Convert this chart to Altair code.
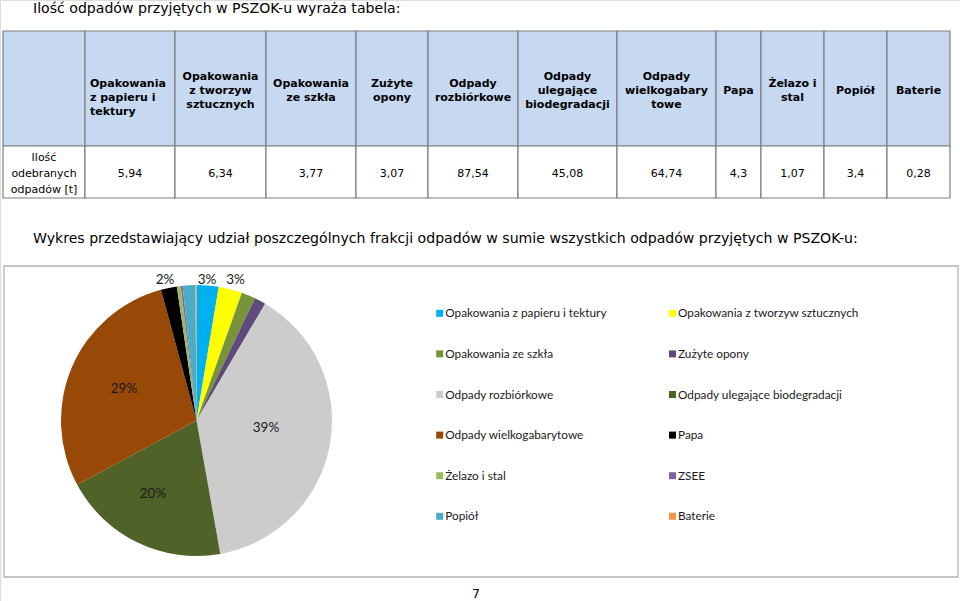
import altair as alt
import pandas as pd

W, H = 960, 601

# ---------------- data ----------------
categories = [
    "Opakowania z papieru i tektury", "Opakowania z tworzyw sztucznych",
    "Opakowania ze szkła", "Zużyte opony", "Odpady rozbiórkowe",
    "Odpady ulegające biodegradacji", "Odpady wielkogabarytowe", "Papa",
    "Żelazo i stal", "ZSEE", "Popiół", "Baterie",
]
tonnes = [5.94, 6.34, 3.77, 3.07, 87.54, 45.08, 64.74, 4.3, 1.07, 0.5, 3.4, 0.28]
colors = ["#00B0F0", "#FFFF00", "#77933C", "#604A7B", "#CCCCCC", "#4F6228",
          "#984807", "#000000", "#9BBB59", "#8064A2", "#4BACC6", "#F79646"]

table_headers = [
    "", "Opakowania\nz papieru i\ntektury", "Opakowania\nz tworzyw\nsztucznych",
    "Opakowania\nze szkła", "Zużyte\nopony", "Odpady\nrozbiórkowe",
    "Odpady\nulegające\nbiodegradacji", "Odpady\nwielkogabary\ntowe", "Papa",
    "Żelazo i\nstal", "Popiół", "Baterie",
]
table_values = [5.94, 6.34, 3.77, 3.07, 87.54, 45.08, 64.74, 4.3, 1.07, 3.4, 0.28]
row_label = "Ilość\nodebranych\nodpadów [t]"

title1 = "Ilość odpadów przyjętych w PSZOK-u wyraża tabela:"
title2 = ("Wykres przedstawiający udział poszczególnych frakcji odpadów w sumie "
          "wszystkich odpadów przyjętych w PSZOK-u:")
page_no = "7"

# ---------------- layout ----------------
col_edges = [3, 85, 175, 266, 356, 428, 518, 617, 716, 761, 824, 887, 950]
head_top, head_bot, row_bot = 31, 146, 198
head_mid, head1_mid, row_mid = 91, 98, 174
head_lh, row_lh = 14, 16
pie_cx, pie_cy, pie_r = 196.5, 420.5, 135.5
# shown slice labels: slice index -> label centre (Excel "best fit" placement)
label_pos = {7: (165, 280), 0: (207, 280), 1: (235.5, 280),
             6: (124, 388.5), 4: (266, 428), 5: (153, 493.5)}
leg_x0, leg_dx, leg_y0, leg_dy = 439.7, 232.8, 313.3, 40.6

xs = alt.Scale(domain=[0, W], range=[0, W], nice=False, zero=False)
ys = alt.Scale(domain=[0, H], range=[0, H], nice=False, zero=False)


def X(f):
    return alt.X(f, type="quantitative", scale=xs, axis=None)


def Y(f):
    return alt.Y(f, type="quantitative", scale=ys, axis=None)


def fmt(v):
    return f"{v:g}".replace(".", ",")


def first_line_y(text, mid, lh):
    n = text.count("\n") + 1
    return mid - (n - 1) * lh / 2


# table cells
cells = []
for c in range(len(table_headers)):
    cells.append(dict(x=col_edges[c], x2=col_edges[c + 1], y=head_top, y2=head_bot, fill="#C6D9F1"))
    cells.append(dict(x=col_edges[c], x2=col_edges[c + 1], y=head_bot, y2=row_bot, fill="#FFFFFF"))
cells_df = pd.DataFrame(cells)

rects = alt.Chart(cells_df).mark_rect(stroke="#7F7F7F", strokeWidth=1.2).encode(
    x=X("x"), x2="x2", y=Y("y"), y2="y2", fill=alt.Fill("fill:N", scale=None)
)

head_df = pd.DataFrame([
    dict(x=(col_edges[c] + col_edges[c + 1]) / 2,
         y=first_line_y(table_headers[c], head_mid, head_lh), t=table_headers[c])
    for c in range(2, len(table_headers))
])
head_txt = alt.Chart(head_df).mark_text(
    font="DejaVu Sans", fontWeight="bold", fontSize=11, lineBreak="\n", lineHeight=head_lh,
    baseline="middle", align="center", color="#000000"
).encode(x=X("x"), y=Y("y"), text="t:N")

head1_df = pd.DataFrame([dict(x=col_edges[1] + 5,
                              y=first_line_y(table_headers[1], head1_mid, head_lh),
                              t=table_headers[1])])
head1_txt = alt.Chart(head1_df).mark_text(
    font="DejaVu Sans", fontWeight="bold", fontSize=11, lineBreak="\n", lineHeight=head_lh,
    baseline="middle", align="left", color="#000000"
).encode(x=X("x"), y=Y("y"), text="t:N")

val_df = pd.DataFrame(
    [dict(x=(col_edges[0] + col_edges[1]) / 2, y=first_line_y(row_label, row_mid, row_lh), t=row_label)] +
    [dict(x=(col_edges[i + 1] + col_edges[i + 2]) / 2, y=row_mid, t=fmt(v))
     for i, v in enumerate(table_values)]
)
val_txt = alt.Chart(val_df).mark_text(
    font="DejaVu Sans", fontSize=11, lineBreak="\n", lineHeight=row_lh,
    baseline="middle", align="center", color="#000000"
).encode(x=X("x"), y=Y("y"), text="t:N")

# titles
titles_df = pd.DataFrame([
    dict(x=33, y=9, t=title1),
    dict(x=33, y=238.5, t=title2),
])
titles = alt.Chart(titles_df).mark_text(
    font="DejaVu Sans", fontSize=14.1, baseline="middle", align="left", color="#000000"
).encode(x=X("x"), y=Y("y"), text="t:N")

page_df = pd.DataFrame([dict(x=476, y=594, t=page_no)])
page = alt.Chart(page_df).mark_text(
    font="DejaVu Sans", fontSize=12.5, baseline="middle", align="center", color="#000000"
).encode(x=X("x"), y=Y("y"), text="t:N")

# chart frame
frame_df = pd.DataFrame([dict(x=4, x2=958, y=266, y2=577)])
frame = alt.Chart(frame_df).mark_rect(fill="#FFFFFF", stroke="#B4B4B4", strokeWidth=1.3).encode(
    x=X("x"), x2="x2", y=Y("y"), y2="y2"
)

# pie
pie_df = pd.DataFrame({"cat": categories, "v": tonnes, "idx": list(range(len(categories)))})
color_scale = alt.Scale(domain=categories, range=colors)
pie = alt.Chart(pie_df).mark_arc(outerRadius=pie_r, strokeWidth=0).encode(
    theta=alt.Theta("v:Q", stack=True),
    order=alt.Order("idx:Q"),
    color=alt.Color("cat:N", scale=color_scale, legend=None),
    x=alt.value(pie_cx), y=alt.value(pie_cy),
)

total = sum(tonnes)
lab_df = pd.DataFrame([
    dict(x=label_pos[i][0], y=label_pos[i][1], t=f"{round(tonnes[i] / total * 100)}%")
    for i in label_pos
])
pie_labels = alt.Chart(lab_df).mark_text(
    font="Lato", fontSize=13.5, baseline="middle", align="center", color="#1A1A1A"
).encode(x=X("x"), y=Y("y"), text="t:N")

# legend (two columns, row-major)
leg_df = pd.DataFrame([
    dict(x=leg_x0 + (i % 2) * leg_dx, y=leg_y0 + (i // 2) * leg_dy, cat=c)
    for i, c in enumerate(categories)
])
leg_sym = alt.Chart(leg_df).mark_square(size=49, opacity=1, strokeWidth=0).encode(
    x=X("x"), y=Y("y"), color=alt.Color("cat:N", scale=color_scale, legend=None)
)
leg_txt = alt.Chart(leg_df).mark_text(
    font="Lato", fontSize=11.8, baseline="middle", align="left", dx=5.5, color="#1A1A1A"
).encode(x=X("x"), y=Y("y"), text="cat:N")

chart = alt.layer(
    frame, rects, head_txt, head1_txt, val_txt, titles, page,
    pie, pie_labels, leg_sym, leg_txt
).properties(
    width=W, height=H, padding=0, autosize=alt.AutoSizeParams(type="none")
).configure_view(stroke=None).configure(background="#FFFFFF")

chart.save("out.html", embed_options={"renderer": "svg", "actions": False})
